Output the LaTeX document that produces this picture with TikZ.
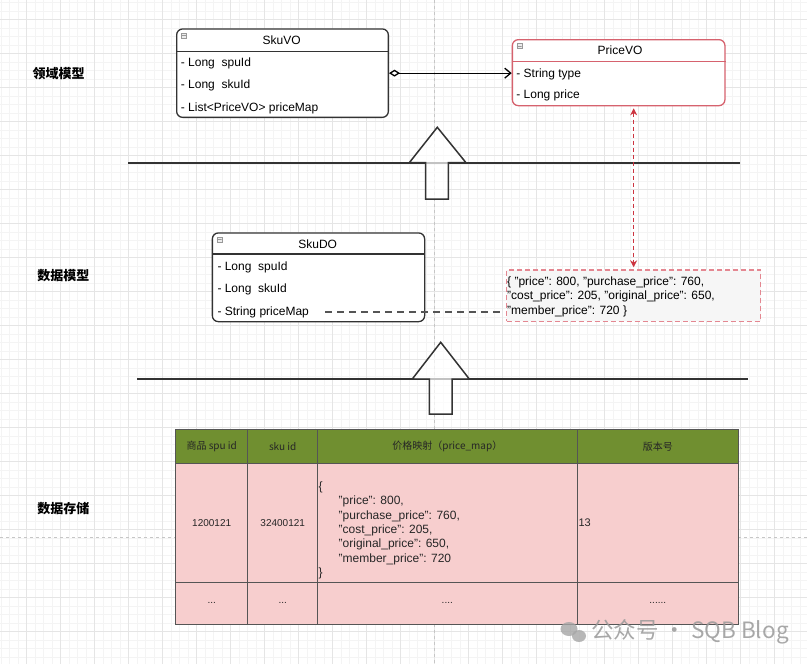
\documentclass[tikz,border=0pt]{standalone}
\usepackage{fontspec}
\setmainfont{Liberation Sans}
\newfontfamily\cjk{Noto Sans CJK SC}
\usetikzlibrary{arrows.meta,positioning}

\definecolor{linegray}{RGB}{51,51,51}
\definecolor{vored}{RGB}{214,98,110}
\definecolor{jsonred}{RGB}{228,135,145}
\definecolor{linkred}{RGB}{204,52,64}
\definecolor{hdrgreen}{RGB}{112,143,48}
\definecolor{cellpink}{RGB}{247,206,206}
\definecolor{cellline}{RGB}{85,85,85}

\tikzset{
  classbox/.style={draw=linegray, line width=1.3pt, rounded corners=6pt, fill=white,
    anchor=north west, inner sep=0pt},
  redbox/.style={classbox, draw=vored},
  minibox/.style={draw=gray!80, fill=gray!15, minimum size=5pt, inner sep=0pt,
    path picture={\draw[gray!80, line width=0.5pt] (path picture bounding box.west) -- (path picture bounding box.east);}},
  row/.style={anchor=west, inner sep=0pt, font=\fontsize{12}{14}\selectfont},
  title/.style={inner sep=0pt, font=\fontsize{12}{14}\selectfont},
  sect/.style={inner sep=0pt, font=\cjk\bfseries\fontsize{13}{15}\selectfont},
  sep/.style={linegray, line width=1.4pt},
  blockarrow/.style={linegray, line width=1.5pt, fill=white, fill opacity=0.7, line join=miter},
  hcell/.style={anchor=north west, draw=cellline, line width=1.1pt, fill=hdrgreen, minimum height=33.7pt,
    inner sep=0pt, font=\cjk\fontsize{10}{12}\selectfont, text=black!85},
  bcell/.style={anchor=north west, draw=cellline, line width=1.1pt, fill=cellpink,
    inner sep=0pt, font=\fontsize{10}{12}\selectfont, text=black!85},
  grid minor/.style={gray!9, line width=0.5pt},
  grid major/.style={gray!20, line width=0.6pt},
  pagebreak/.style={gray!45, line width=0.6pt, dash pattern=on 3pt off 3pt}
}

\begin{document}
\begin{tikzpicture}[x=1pt, y=-1pt]
  \useasboundingbox (0,0) rectangle (807,664);
  \fill[white] (0,0) rectangle (807,664);
  % grid
  \foreach \x in {1.2,9.7,...,807} \draw[grid minor] (\x,0) -- (\x,664);
  \foreach \y in {2.3,10.8,...,664} \draw[grid minor] (0,\y) -- (807,\y);
  \foreach \x in {26.7,60.7,...,807} \draw[grid major] (\x,0) -- (\x,664);
  \foreach \y in {19.3,53.3,...,664} \draw[grid major] (0,\y) -- (807,\y);
  \draw[pagebreak] (434,0) -- (434,664);
  \draw[pagebreak] (0,537) -- (807,537);

  % layer labels
  \node[sect] (lbl-domain) at (58.7,74) {领域模型};
  \node[sect] (lbl-data) at (63.3,276) {数据模型};
  \node[sect] (lbl-store) at (63.3,509) {数据存储};

  % separators and block arrows
  \draw[sep] (128,163) -- (740,163);
  \draw[sep] (137,379) -- (748,379);
  \draw[blockarrow] (437.3,127.3) -- (466,162.7) -- (448.3,162.7) -- (448.3,199)
    -- (425.7,199) -- (425.7,162.7) -- (409.3,162.7) -- cycle;
  \draw[blockarrow] (440.7,342.3) -- (469.3,379) -- (452,379) -- (452,414)
    -- (429.3,414) -- (429.3,379) -- (412.3,379) -- cycle;

  % SkuVO
  \node[classbox, minimum width=211.7pt, minimum height=88.4pt] (skuvo) at (176,28.3) {};
  \draw[linegray, line width=1.3pt] ([yshift=-23.4pt]skuvo.north west) -- ([yshift=-23.4pt]skuvo.north east);
  \node[minibox] (skuvo-ic) at ([xshift=7.5pt,yshift=-7pt]skuvo.north west) {};
  \node[title] (skuvo-t) at (281.7,40) {SkuVO};
  \node[row] (skuvo-spu) at (180.7,63.3) {- Long\ \ spuId};
  \node[row] (skuvo-sku) at (180.7,85.7) {- Long\ \ skuId};
  \node[row] (skuvo-map) at (180.7,108.3) {- List<PriceVO> priceMap};

  % PriceVO
  \node[redbox, minimum width=212.6pt, minimum height=66pt] (pricevo) at (511.7,39) {};
  \draw[vored, line width=1.3pt] ([yshift=-22.7pt]pricevo.north west) -- ([yshift=-22.7pt]pricevo.north east);
  \node[minibox] (pricevo-ic) at ([xshift=7.5pt,yshift=-7pt]pricevo.north west) {};
  \node[title] (pricevo-t) at (620,50.7) {PriceVO};
  \node[row] (pricevo-type) at (516.2,74) {- String type};
  \node[row] (pricevo-price) at (516.2,95.7) {- Long price};

  \draw[line width=1.3pt, {Diamond[open,length=11pt,width=7pt]}-{Straight Barb[length=6pt,width=10pt]}]
    (skuvo.east) -- (pricevo.west |- skuvo.east);

  % SkuDO
  \node[classbox, minimum width=212.3pt, minimum height=88.7pt] (skudo) at (211.7,232.3) {};
  \draw[linegray, line width=1.3pt] ([yshift=-21.7pt]skudo.north west) -- ([yshift=-21.7pt]skudo.north east);
  \node[minibox] (skudo-ic) at ([xshift=7.5pt,yshift=-7pt]skudo.north west) {};
  \node[title] (skudo-t) at (317.7,244) {SkuDO};
  \node[row] (skudo-spu) at (217.3,267.3) {- Long\ \ spuId};
  \node[row] (skudo-sku) at (217.3,289.3) {- Long\ \ skuId};
  \node[row] (skudo-map) at (217.3,312.3) {- String priceMap};

  % json string
  \node[anchor=north west, draw=jsonred, line width=1.3pt, dash pattern=on 5pt off 3pt,
    fill=gray!7, minimum width=254pt, minimum height=51.4pt, inner sep=0pt] (json) at (506,269.3) {};
  \node[anchor=north west, inner sep=0pt, align=left, font=\fontsize{12}{14.5}\selectfont]
    (json-txt) at (507,276.5) {\{ "price": 800, "purchase\_price": 760,\\"cost\_price": 205, "original\_price": 650,\\"member\_price": 720 \}};

  \draw[cellline, line width=2pt, dash pattern=on 7pt off 5pt, shorten <=16pt, shorten >=6pt]
    (skudo-map.east) -- (json.west |- skudo-map.east);
  \draw[linkred, line width=1.6pt, dash pattern=on 4pt off 3pt, {Stealth[length=7pt,width=7pt]}-{Stealth[length=7pt,width=7pt]},
    shorten <=2pt, shorten >=2pt] (json.north |- pricevo.south) -- (json.north);

  % table
  \foreach \xa/\xb/\nm/\txt in {175/247.3/spu/商品 spu id, 247.3/317/sku/sku id,
      317/576.5/map/价格映射（price\_map）, 576.5/738/ver/版本号}
    \node[hcell, minimum width={(\xb-\xa)*1pt}] (h-\nm) at (\xa,429) {\txt};
  \node[bcell, minimum width=72.3pt, minimum height=119pt] (d-spu) at (175,462.7) {1200121};
  \node[bcell, minimum width=69.7pt, minimum height=119pt] (d-sku) at (247.3,462.7) {32400121};
  \node[bcell, minimum width=259.5pt, minimum height=119pt] (d-map) at (317,462.7) {};
  \node[bcell, minimum width=161.5pt, minimum height=119pt] (d-ver) at (576.5,462.7) {};
  \node[anchor=north west, inner sep=0pt, align=left, font=\fontsize{12}{14.3}\selectfont, text=black!85]
    (d-map-txt) at (318.5,481.7) {\{\\\hspace*{20pt}"price": 800,\\\hspace*{20pt}"purchase\_price": 760,\\
      \hspace*{20pt}"cost\_price": 205,\\\hspace*{20pt}"original\_price": 650,\\
      \hspace*{20pt}"member\_price": 720\\\}};
  \node[anchor=west, inner sep=0pt, font=\fontsize{11}{13}\selectfont, text=black!85] (d-ver-txt) at (578.3,522.7) {13};
  \node[bcell, minimum width=72.3pt, minimum height=42.3pt] (e-spu) at (175,581.7) {.\kern0pt..};
  \node[bcell, minimum width=69.7pt, minimum height=42.3pt] (e-sku) at (247.3,581.7) {.\kern0pt..};
  \node[bcell, minimum width=259.5pt, minimum height=42.3pt] (e-map) at (317,581.7) {.\kern0pt...};
  \node[bcell, minimum width=161.5pt, minimum height=42.3pt] (e-ver) at (576.5,581.7) {.\kern0pt.....};

  % watermark
  \fill[gray!70, opacity=0.8] (569,629) ellipse [x radius=8.5pt, y radius=7pt];
  \fill[gray!70, opacity=0.8] (579,636) ellipse [x radius=7pt, y radius=6pt];
  \node[anchor=west, inner sep=0pt, font=\cjk\fontsize{22.5}{25}\selectfont, text=gray!80, opacity=0.85]
    (wm) at (591,632) {公众号 · SQB Blog};
\end{tikzpicture}
\end{document}
